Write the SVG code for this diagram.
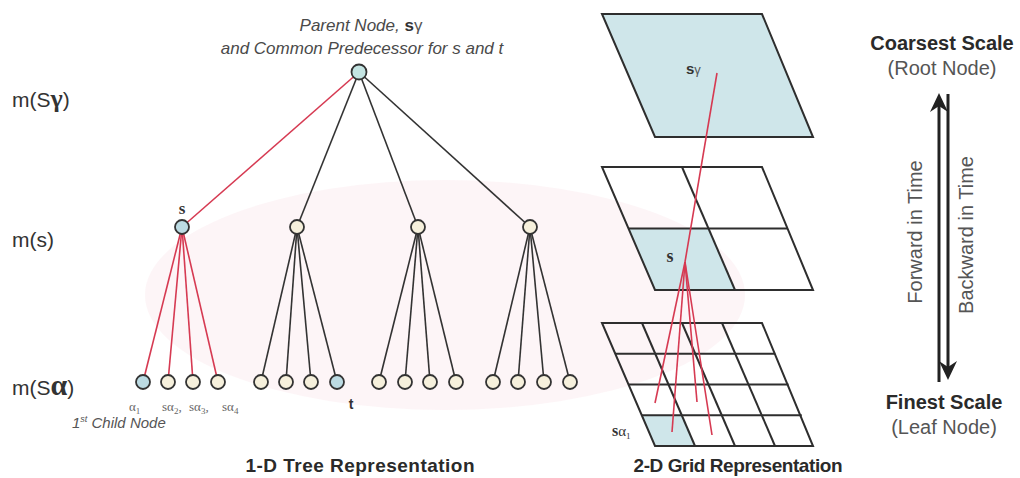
<svg xmlns="http://www.w3.org/2000/svg" width="1020" height="478" viewBox="0 0 1020 478">
<defs>
<style>
.edge{stroke:#333;stroke-width:1.6;fill:none}
.red{stroke:#d63a52;stroke-width:1.6;fill:none}
.node{stroke:#333;stroke-width:1.8}
.blue{fill:#bcdbe3}
.teal{fill:#c4e4e2}
.cream{fill:#f6f0dc}
.grid{stroke:#2e2e2e;stroke-width:2;fill:none}
.shade{fill:#cfe6ea;stroke:none}
.sans{font-family:"Liberation Sans",Arial,sans-serif}
.serif{font-family:"Liberation Serif","Times New Roman",serif}
.lbl{font-family:"Liberation Sans",Arial,sans-serif;font-size:21px;fill:#333}
.title{font-family:"Liberation Sans",Arial,sans-serif;font-size:19px;font-weight:bold;fill:#2a2a2a;text-anchor:middle}
.scale{font-family:"Liberation Sans",Arial,sans-serif;font-size:20px;font-weight:bold;fill:#2a2a2a;text-anchor:middle}
.sub{font-family:"Liberation Sans",Arial,sans-serif;font-size:20px;fill:#555;text-anchor:middle}
.small{font-family:"Liberation Serif","Times New Roman",serif;font-size:13px;fill:#666}
.arrow{stroke:#222;stroke-width:3;fill:none}
</style>
<path id="head" d="M0,0 L9,19 L0,13 L-9,19 Z" fill="#222"/>
</defs>
<rect width="1020" height="478" fill="#fff"/>
<ellipse cx="445" cy="295" rx="300" ry="115" fill="#fbeef1" opacity="0.6"/>

<g id="axis-labels">
<text class="lbl" x="12" y="107">m(S<tspan class="serif" font-size="26" font-weight="bold">γ</tspan>)</text>
<text class="lbl" x="12" y="247">m(s)</text>
<text class="lbl" x="12" y="395">m(S<tspan class="serif" font-size="30" font-weight="bold">α</tspan>)</text>
</g>

<g id="connectors">
<line class="red" x1="359" y1="72" x2="182" y2="227"/>
<line class="edge" x1="359" y1="72" x2="297" y2="227"/>
<line class="edge" x1="359" y1="72" x2="418" y2="227"/>
<line class="edge" x1="359" y1="72" x2="530" y2="227"/>
<line class="red" x1="182" y1="227" x2="143" y2="382"/>
<line class="red" x1="182" y1="227" x2="168" y2="382"/>
<line class="red" x1="182" y1="227" x2="193" y2="382"/>
<line class="red" x1="182" y1="227" x2="218" y2="382"/>
<line class="edge" x1="297" y1="227" x2="261" y2="382"/>
<line class="edge" x1="297" y1="227" x2="286" y2="382"/>
<line class="edge" x1="297" y1="227" x2="311" y2="382"/>
<line class="edge" x1="297" y1="227" x2="337" y2="382"/>
<line class="edge" x1="418" y1="227" x2="379" y2="382"/>
<line class="edge" x1="418" y1="227" x2="405" y2="382"/>
<line class="edge" x1="418" y1="227" x2="430" y2="382"/>
<line class="edge" x1="418" y1="227" x2="456" y2="382"/>
<line class="edge" x1="530" y1="227" x2="493" y2="382"/>
<line class="edge" x1="530" y1="227" x2="518" y2="382"/>
<line class="edge" x1="530" y1="227" x2="544" y2="382"/>
<line class="edge" x1="530" y1="227" x2="570" y2="382"/>
</g>

<g id="root">
<circle class="node teal" cx="359" cy="72" r="7.5"/>
<text class="sans" x="361" y="31" font-size="17" font-style="italic" fill="#4a4a4a" text-anchor="middle">Parent Node, <tspan font-weight="bold" font-style="normal" fill="#333">s</tspan><tspan font-style="normal" fill="#555">γ</tspan></text>
<text class="sans" x="362" y="54" font-size="17" font-style="italic" fill="#4a4a4a" text-anchor="middle">and Common Predecessor for s and t</text>
</g>

<g id="node-s">
<circle class="node blue" cx="182" cy="227" r="7"/>
<text class="serif" x="182" y="214" font-size="17" font-weight="bold" fill="#333" text-anchor="middle">s</text>
</g>
<g id="node-2"><circle class="node cream" cx="297" cy="227" r="7"/></g>
<g id="node-3"><circle class="node cream" cx="418" cy="227" r="7"/></g>
<g id="node-4"><circle class="node cream" cx="530" cy="227" r="7"/></g>

<g id="leaves-1">
<circle class="node blue" cx="143" cy="382" r="7"/>
<circle class="node cream" cx="168" cy="382" r="7"/>
<circle class="node cream" cx="193" cy="382" r="7"/>
<circle class="node cream" cx="218" cy="382" r="7"/>
<text class="small" x="129" y="411">α<tspan font-size="9" dy="3">1</tspan></text>
<text class="small" x="162" y="411">sα<tspan font-size="9" dy="3">2</tspan><tspan dy="-3">,</tspan></text>
<text class="small" x="189" y="411">sα<tspan font-size="9" dy="3">3</tspan><tspan dy="-3">,</tspan></text>
<text class="small" x="222" y="411">sα<tspan font-size="9" dy="3">4</tspan></text>
<text class="sans" x="72" y="428" font-size="15" font-style="italic" fill="#555">1<tspan font-size="9" dy="-6">st</tspan><tspan dy="6"> Child Node</tspan></text>
</g>
<g id="leaves-2">
<circle class="node cream" cx="261" cy="382" r="7"/>
<circle class="node cream" cx="286" cy="382" r="7"/>
<circle class="node cream" cx="311" cy="382" r="7"/>
<circle class="node blue" cx="337" cy="382" r="7"/>
<text class="sans" x="351" y="409" font-size="14" font-weight="bold" fill="#333" text-anchor="middle">t</text>
</g>
<g id="leaves-3">
<circle class="node cream" cx="379" cy="382" r="7"/>
<circle class="node cream" cx="405" cy="382" r="7"/>
<circle class="node cream" cx="430" cy="382" r="7"/>
<circle class="node cream" cx="456" cy="382" r="7"/>
</g>
<g id="leaves-4">
<circle class="node cream" cx="493" cy="382" r="7"/>
<circle class="node cream" cx="518" cy="382" r="7"/>
<circle class="node cream" cx="544" cy="382" r="7"/>
<circle class="node cream" cx="570" cy="382" r="7"/>
</g>

<text class="title" x="360" y="472" textLength="229">1-D Tree Representation</text>

<g id="grid-top">
<polygon class="shade" points="602,14 762,14 813,137 655,137"/>
<polygon class="grid" points="602,14 762,14 813,137 655,137"/>
<text x="686" y="74" font-size="15"><tspan class="sans" font-weight="bold" fill="#333">s</tspan><tspan class="sans" font-size="13" fill="#555">γ</tspan></text>
</g>

<g id="grid-middle">
<polygon class="shade" points="628.5,228.5 708.5,228.5 735,290 655,290"/>
<polygon class="grid" points="602,167 762,167 813,290 655,290"/>
<line class="grid" x1="628.5" y1="228.5" x2="787.5" y2="228.5"/>
<line class="grid" x1="682" y1="167" x2="735" y2="290"/>
<text class="serif" x="670" y="262" font-size="18" font-weight="bold" fill="#333" text-anchor="middle">s</text>
</g>

<g id="grid-bottom">
<polygon class="shade" points="641.75,415.25 681.75,415.25 695,446 655,446"/>
<polygon class="grid" points="602,323 762,323 813,446 655,446"/>
<line class="grid" x1="615.25" y1="353.75" x2="775.25" y2="353.75"/>
<line class="grid" x1="628.5" y1="384.5" x2="788.5" y2="384.5"/>
<line class="grid" x1="641.75" y1="415.25" x2="801.75" y2="415.25"/>
<line class="grid" x1="642" y1="323" x2="695" y2="446"/>
<line class="grid" x1="682" y1="323" x2="735" y2="446"/>
<line class="grid" x1="722" y1="323" x2="775" y2="446"/>
<text x="612" y="436" fill="#333"><tspan class="serif" font-size="16" font-weight="bold">s</tspan><tspan class="serif" font-size="15">α</tspan><tspan class="serif" font-size="9" dy="3">1</tspan></text>
</g>

<g id="grid-connectors">
<line class="red" x1="717" y1="73" x2="685" y2="262"/>
<line class="red" x1="685" y1="262" x2="655" y2="403"/>
<line class="red" x1="685" y1="262" x2="672" y2="432"/>
<line class="red" x1="685" y1="262" x2="697" y2="402"/>
<line class="red" x1="685" y1="262" x2="712" y2="435"/>
</g>

<text class="title" x="738" y="472" textLength="209">2-D Grid Representation</text>

<g id="time-axis">
<text class="scale" x="942" y="50">Coarsest Scale</text>
<text class="sub" x="942" y="75">(Root Node)</text>
<line class="arrow" x1="939" y1="104" x2="939" y2="382"/>
<use href="#head" x="939" y="93"/>
<line class="arrow" x1="948" y1="94" x2="948" y2="370"/>
<use href="#head" transform="translate(948,380) rotate(180)"/>
<text class="sans" transform="translate(922,232) rotate(-90)" font-size="20" fill="#555" text-anchor="middle">Forward in Time</text>
<text class="sans" transform="translate(973,235) rotate(-90)" font-size="20" fill="#555" text-anchor="middle">Backward in Time</text>
<text class="scale" x="944" y="409">Finest Scale</text>
<text class="sub" x="944" y="434">(Leaf Node)</text>
</g>
</svg>
